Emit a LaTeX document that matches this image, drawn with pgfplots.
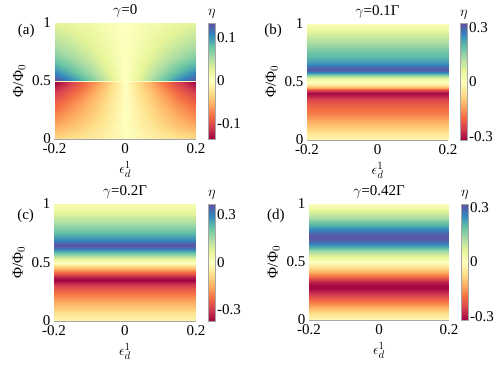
\documentclass[border=0pt]{standalone}
\usepackage{fontspec}
\setmainfont{Liberation Serif}
\usepackage{pgfplots}
\pgfplotsset{compat=1.18}

\pgfplotsset{
  colormap={spec}{rgb255=(158,1,66) rgb255=(213,62,79) rgb255=(244,109,67) rgb255=(253,174,97) rgb255=(254,224,139) rgb255=(255,255,191) rgb255=(230,245,152) rgb255=(171,221,164) rgb255=(102,194,165) rgb255=(50,136,189) rgb255=(94,79,162)},
  panel/.style={
    scale only axis, anchor=south west, clip=false,
    xmin=-0.2, xmax=0.2, ymin=0, ymax=1,
    xtick={-0.2,0,0.2}, xticklabels={-0.2,0,0.2},
    ytick={0,0.5,1}, yticklabels={0,0.5,1},
    major tick length=0pt,
    axis x line*=bottom, axis y line*=left,
    x axis line style={gray!70}, y axis line style={draw=none},
    xticklabel style={yshift=-1pt},
    xlabel={$\epsilon_d^1$}, ylabel={Φ/Φ$_0$},
    xlabel style={yshift=-1pt},
    title style={yshift=-4pt},
    colormap name=spec, axis on top,
    colorbar,
    % the default colorbar style already shifts by 0.3cm
    colorbar style={at={(parent axis.north east)}, anchor=north west, xshift=3.5pt,
      width=7.5pt, major tick length=0pt, axis line style={gray!70},
      yticklabel style={inner sep=1.5pt},
      title={$\eta$}, title style={yshift=-5pt}},
  },
}

\begin{document}
\begin{tikzpicture}[font=\fontsize{15}{17}\selectfont]
\path[use as bounding box] (0,0) rectangle (498pt,368pt);

% (a) gamma = 0
\begin{axis}[panel, at={(54.5pt,229pt)}, width=141.5pt, height=116pt,
  title={$\gamma$=0}, point meta min=-0.135, point meta max=0.135,
  colorbar style={ytick={-0.1,0,0.1}, yticklabels={-0.1,0,0.1}}]
\addplot[surf, shader=interp, mesh/cols=9, point meta=explicit] coordinates {
(-0.2,0) [-0.030] (-0.15,0) [-0.0237] (-0.1,0) [-0.0165] (-0.05,0) [-0.0084] (0,0) [0] (0.05,0) [-0.0084] (0.1,0) [-0.0165] (0.15,0) [-0.0237] (0.2,0) [-0.030]
(-0.2,0.1) [-0.053] (-0.15,0.1) [-0.0419] (-0.1,0.1) [-0.0292] (-0.05,0.1) [-0.0148] (0,0.1) [0] (0.05,0.1) [-0.0148] (0.1,0.1) [-0.0292] (0.15,0.1) [-0.0419] (0.2,0.1) [-0.053]
(-0.2,0.2) [-0.070] (-0.15,0.2) [-0.0553] (-0.1,0.2) [-0.0385] (-0.05,0.2) [-0.0196] (0,0.2) [0] (0.05,0.2) [-0.0196] (0.1,0.2) [-0.0385] (0.15,0.2) [-0.0553] (0.2,0.2) [-0.070]
(-0.2,0.3) [-0.086] (-0.15,0.3) [-0.0679] (-0.1,0.3) [-0.0473] (-0.05,0.3) [-0.0241] (0,0.3) [0] (0.05,0.3) [-0.0241] (0.1,0.3) [-0.0473] (0.15,0.3) [-0.0679] (0.2,0.3) [-0.086]
(-0.2,0.4) [-0.107] (-0.15,0.4) [-0.0845] (-0.1,0.4) [-0.0589] (-0.05,0.4) [-0.0300] (0,0.4) [0] (0.05,0.4) [-0.0300] (0.1,0.4) [-0.0589] (0.15,0.4) [-0.0845] (0.2,0.4) [-0.107]
(-0.2,0.45) [-0.122] (-0.15,0.45) [-0.0964] (-0.1,0.45) [-0.0671] (-0.05,0.45) [-0.0342] (0,0.45) [0] (0.05,0.45) [-0.0342] (0.1,0.45) [-0.0671] (0.15,0.45) [-0.0964] (0.2,0.45) [-0.122]
(-0.2,0.48) [-0.132] (-0.15,0.48) [-0.1043] (-0.1,0.48) [-0.0726] (-0.05,0.48) [-0.0370] (0,0.48) [0] (0.05,0.48) [-0.0370] (0.1,0.48) [-0.0726] (0.15,0.48) [-0.1043] (0.2,0.48) [-0.132]
(-0.2,0.495) [-0.135] (-0.15,0.495) [-0.1067] (-0.1,0.495) [-0.0743] (-0.05,0.495) [-0.0378] (0,0.495) [0] (0.05,0.495) [-0.0378] (0.1,0.495) [-0.0743] (0.15,0.495) [-0.1067] (0.2,0.495) [-0.135]
(-0.2,0.5) [0] (-0.15,0.5) [0] (-0.1,0.5) [0] (-0.05,0.5) [0] (0,0.5) [0] (0.05,0.5) [0] (0.1,0.5) [0] (0.15,0.5) [0] (0.2,0.5) [0]
(-0.2,0.505) [0.135] (-0.15,0.505) [0.1067] (-0.1,0.505) [0.0743] (-0.05,0.505) [0.0378] (0,0.505) [0] (0.05,0.505) [0.0378] (0.1,0.505) [0.0743] (0.15,0.505) [0.1067] (0.2,0.505) [0.135]
(-0.2,0.52) [0.130] (-0.15,0.52) [0.1027] (-0.1,0.52) [0.0715] (-0.05,0.52) [0.0364] (0,0.52) [0] (0.05,0.52) [0.0364] (0.1,0.52) [0.0715] (0.15,0.52) [0.1027] (0.2,0.52) [0.130]
(-0.2,0.55) [0.115] (-0.15,0.55) [0.0909] (-0.1,0.55) [0.0633] (-0.05,0.55) [0.0322] (0,0.55) [0] (0.05,0.55) [0.0322] (0.1,0.55) [0.0633] (0.15,0.55) [0.0909] (0.2,0.55) [0.115]
(-0.2,0.6) [0.098] (-0.15,0.6) [0.0774] (-0.1,0.6) [0.0539] (-0.05,0.6) [0.0274] (0,0.6) [0] (0.05,0.6) [0.0274] (0.1,0.6) [0.0539] (0.15,0.6) [0.0774] (0.2,0.6) [0.098]
(-0.2,0.7) [0.072] (-0.15,0.7) [0.0569] (-0.1,0.7) [0.0396] (-0.05,0.7) [0.0202] (0,0.7) [0] (0.05,0.7) [0.0202] (0.1,0.7) [0.0396] (0.15,0.7) [0.0569] (0.2,0.7) [0.072]
(-0.2,0.8) [0.054] (-0.15,0.8) [0.0427] (-0.1,0.8) [0.0297] (-0.05,0.8) [0.0151] (0,0.8) [0] (0.05,0.8) [0.0151] (0.1,0.8) [0.0297] (0.15,0.8) [0.0427] (0.2,0.8) [0.054]
(-0.2,0.9) [0.041] (-0.15,0.9) [0.0324] (-0.1,0.9) [0.0226] (-0.05,0.9) [0.0115] (0,0.9) [0] (0.05,0.9) [0.0115] (0.1,0.9) [0.0226] (0.15,0.9) [0.0324] (0.2,0.9) [0.041]
(-0.2,1) [0.028] (-0.15,1) [0.0221] (-0.1,1) [0.0154] (-0.05,1) [0.0078] (0,1) [0] (0.05,1) [0.0078] (0.1,1) [0.0154] (0.15,1) [0.0221] (0.2,1) [0.028]
};
\node at (rel axis cs:-0.2,0.93) {(a)};
\end{axis}

% (b) gamma = 0.1 Gamma
\begin{axis}[panel, at={(307pt,228pt)}, width=141pt, height=116.5pt,
  title={$\gamma$=0.1Γ}, point meta min=-0.32, point meta max=0.32,
  colorbar style={ytick={-0.3,0,0.3}, yticklabels={-0.3,0,0.3}}]
\addplot[surf, shader=interp, mesh/cols=2, point meta=explicit] coordinates {
(-0.2,0) [-0.015] (0.2,0) [-0.015]
(-0.2,0.025) [-0.03] (0.2,0.025) [-0.03]
(-0.2,0.05) [-0.047] (0.2,0.05) [-0.047]
(-0.2,0.075) [-0.068] (0.2,0.075) [-0.068]
(-0.2,0.1) [-0.09] (0.2,0.1) [-0.09]
(-0.2,0.125) [-0.105] (0.2,0.125) [-0.105]
(-0.2,0.15) [-0.118] (0.2,0.15) [-0.118]
(-0.2,0.175) [-0.135] (0.2,0.175) [-0.135]
(-0.2,0.2) [-0.155] (0.2,0.2) [-0.155]
(-0.2,0.225) [-0.172] (0.2,0.225) [-0.172]
(-0.2,0.25) [-0.186] (0.2,0.25) [-0.186]
(-0.2,0.275) [-0.198] (0.2,0.275) [-0.198]
(-0.2,0.3) [-0.21] (0.2,0.3) [-0.21]
(-0.2,0.325) [-0.228] (0.2,0.325) [-0.228]
(-0.2,0.35) [-0.25] (0.2,0.35) [-0.25]
(-0.2,0.375) [-0.285] (0.2,0.375) [-0.285]
(-0.2,0.4) [-0.31] (0.2,0.4) [-0.31]
(-0.2,0.425) [-0.24] (0.2,0.425) [-0.24]
(-0.2,0.45) [-0.135] (0.2,0.45) [-0.135]
(-0.2,0.475) [-0.045] (0.2,0.475) [-0.045]
(-0.2,0.5) [0] (0.2,0.5) [0]
(-0.2,0.525) [0.045] (0.2,0.525) [0.045]
(-0.2,0.55) [0.135] (0.2,0.55) [0.135]
(-0.2,0.575) [0.24] (0.2,0.575) [0.24]
(-0.2,0.6) [0.31] (0.2,0.6) [0.31]
(-0.2,0.625) [0.285] (0.2,0.625) [0.285]
(-0.2,0.65) [0.25] (0.2,0.65) [0.25]
(-0.2,0.675) [0.228] (0.2,0.675) [0.228]
(-0.2,0.7) [0.21] (0.2,0.7) [0.21]
(-0.2,0.725) [0.198] (0.2,0.725) [0.198]
(-0.2,0.75) [0.186] (0.2,0.75) [0.186]
(-0.2,0.775) [0.172] (0.2,0.775) [0.172]
(-0.2,0.8) [0.155] (0.2,0.8) [0.155]
(-0.2,0.825) [0.135] (0.2,0.825) [0.135]
(-0.2,0.85) [0.118] (0.2,0.85) [0.118]
(-0.2,0.875) [0.105] (0.2,0.875) [0.105]
(-0.2,0.9) [0.09] (0.2,0.9) [0.09]
(-0.2,0.925) [0.068] (0.2,0.925) [0.068]
(-0.2,0.95) [0.047] (0.2,0.95) [0.047]
(-0.2,0.975) [0.03] (0.2,0.975) [0.03]
(-0.2,1) [0.015] (0.2,1) [0.015]
};
\node at (rel axis cs:-0.24,0.94) {(b)};
\end{axis}

% (c) gamma = 0.2 Gamma
\begin{axis}[panel, at={(54pt,47pt)}, width=142pt, height=117pt,
  title={$\gamma$=0.2Γ}, point meta min=-0.37, point meta max=0.37,
  colorbar style={ytick={-0.3,0,0.3}, yticklabels={-0.3,0,0.3}}]
\addplot[surf, shader=interp, mesh/cols=2, point meta=explicit] coordinates {
(-0.2,0) [-0.03] (0.2,0) [-0.03]
(-0.2,0.025) [-0.04] (0.2,0.025) [-0.04]
(-0.2,0.05) [-0.055] (0.2,0.05) [-0.055]
(-0.2,0.075) [-0.075] (0.2,0.075) [-0.075]
(-0.2,0.1) [-0.1] (0.2,0.1) [-0.1]
(-0.2,0.125) [-0.122] (0.2,0.125) [-0.122]
(-0.2,0.15) [-0.14] (0.2,0.15) [-0.14]
(-0.2,0.175) [-0.16] (0.2,0.175) [-0.16]
(-0.2,0.2) [-0.18] (0.2,0.2) [-0.18]
(-0.2,0.225) [-0.205] (0.2,0.225) [-0.205]
(-0.2,0.25) [-0.23] (0.2,0.25) [-0.23]
(-0.2,0.275) [-0.255] (0.2,0.275) [-0.255]
(-0.2,0.3) [-0.285] (0.2,0.3) [-0.285]
(-0.2,0.325) [-0.325] (0.2,0.325) [-0.325]
(-0.2,0.35) [-0.37] (0.2,0.35) [-0.37]
(-0.2,0.375) [-0.33] (0.2,0.375) [-0.33]
(-0.2,0.4) [-0.262] (0.2,0.4) [-0.262]
(-0.2,0.425) [-0.195] (0.2,0.425) [-0.195]
(-0.2,0.45) [-0.122] (0.2,0.45) [-0.122]
(-0.2,0.475) [-0.05] (0.2,0.475) [-0.05]
(-0.2,0.5) [0] (0.2,0.5) [0]
(-0.2,0.525) [0.05] (0.2,0.525) [0.05]
(-0.2,0.55) [0.122] (0.2,0.55) [0.122]
(-0.2,0.575) [0.195] (0.2,0.575) [0.195]
(-0.2,0.6) [0.262] (0.2,0.6) [0.262]
(-0.2,0.625) [0.33] (0.2,0.625) [0.33]
(-0.2,0.65) [0.37] (0.2,0.65) [0.37]
(-0.2,0.675) [0.325] (0.2,0.675) [0.325]
(-0.2,0.7) [0.285] (0.2,0.7) [0.285]
(-0.2,0.725) [0.255] (0.2,0.725) [0.255]
(-0.2,0.75) [0.23] (0.2,0.75) [0.23]
(-0.2,0.775) [0.205] (0.2,0.775) [0.205]
(-0.2,0.8) [0.18] (0.2,0.8) [0.18]
(-0.2,0.825) [0.16] (0.2,0.825) [0.16]
(-0.2,0.85) [0.14] (0.2,0.85) [0.14]
(-0.2,0.875) [0.122] (0.2,0.875) [0.122]
(-0.2,0.9) [0.1] (0.2,0.9) [0.1]
(-0.2,0.925) [0.075] (0.2,0.925) [0.075]
(-0.2,0.95) [0.055] (0.2,0.95) [0.055]
(-0.2,0.975) [0.04] (0.2,0.975) [0.04]
(-0.2,1) [0.03] (0.2,1) [0.03]
};
\node at (rel axis cs:-0.2,0.9) {(c)};
\end{axis}

% (d) gamma = 0.42 Gamma
\begin{axis}[panel, at={(309pt,48pt)}, width=140pt, height=116pt,
  title={$\gamma$=0.42Γ}, point meta min=-0.32, point meta max=0.32,
  colorbar style={ytick={-0.3,0,0.3}, yticklabels={-0.3,0,0.3}}]
\addplot[surf, shader=interp, mesh/cols=2, point meta=explicit] coordinates {
(-0.2,0) [-0.01] (0.2,0) [-0.01]
(-0.2,0.025) [-0.032] (0.2,0.025) [-0.032]
(-0.2,0.05) [-0.06] (0.2,0.05) [-0.06]
(-0.2,0.075) [-0.088] (0.2,0.075) [-0.088]
(-0.2,0.1) [-0.115] (0.2,0.1) [-0.115]
(-0.2,0.125) [-0.14] (0.2,0.125) [-0.14]
(-0.2,0.15) [-0.17] (0.2,0.15) [-0.17]
(-0.2,0.175) [-0.2] (0.2,0.175) [-0.2]
(-0.2,0.2) [-0.23] (0.2,0.2) [-0.23]
(-0.2,0.225) [-0.262] (0.2,0.225) [-0.262]
(-0.2,0.25) [-0.29] (0.2,0.25) [-0.29]
(-0.2,0.275) [-0.315] (0.2,0.275) [-0.315]
(-0.2,0.3) [-0.31] (0.2,0.3) [-0.31]
(-0.2,0.325) [-0.285] (0.2,0.325) [-0.285]
(-0.2,0.35) [-0.245] (0.2,0.35) [-0.245]
(-0.2,0.375) [-0.2] (0.2,0.375) [-0.2]
(-0.2,0.4) [-0.155] (0.2,0.4) [-0.155]
(-0.2,0.425) [-0.11] (0.2,0.425) [-0.11]
(-0.2,0.45) [-0.07] (0.2,0.45) [-0.07]
(-0.2,0.475) [-0.035] (0.2,0.475) [-0.035]
(-0.2,0.5) [0] (0.2,0.5) [0]
(-0.2,0.525) [0.035] (0.2,0.525) [0.035]
(-0.2,0.55) [0.07] (0.2,0.55) [0.07]
(-0.2,0.575) [0.11] (0.2,0.575) [0.11]
(-0.2,0.6) [0.155] (0.2,0.6) [0.155]
(-0.2,0.625) [0.2] (0.2,0.625) [0.2]
(-0.2,0.65) [0.245] (0.2,0.65) [0.245]
(-0.2,0.675) [0.285] (0.2,0.675) [0.285]
(-0.2,0.7) [0.31] (0.2,0.7) [0.31]
(-0.2,0.725) [0.315] (0.2,0.725) [0.315]
(-0.2,0.75) [0.29] (0.2,0.75) [0.29]
(-0.2,0.775) [0.262] (0.2,0.775) [0.262]
(-0.2,0.8) [0.23] (0.2,0.8) [0.23]
(-0.2,0.825) [0.2] (0.2,0.825) [0.2]
(-0.2,0.85) [0.17] (0.2,0.85) [0.17]
(-0.2,0.875) [0.14] (0.2,0.875) [0.14]
(-0.2,0.9) [0.115] (0.2,0.9) [0.115]
(-0.2,0.925) [0.088] (0.2,0.925) [0.088]
(-0.2,0.95) [0.06] (0.2,0.95) [0.06]
(-0.2,0.975) [0.032] (0.2,0.975) [0.032]
(-0.2,1) [0.01] (0.2,1) [0.01]
};
\node at (rel axis cs:-0.236,0.9) {(d)};
\end{axis}
\end{tikzpicture}
\end{document}
